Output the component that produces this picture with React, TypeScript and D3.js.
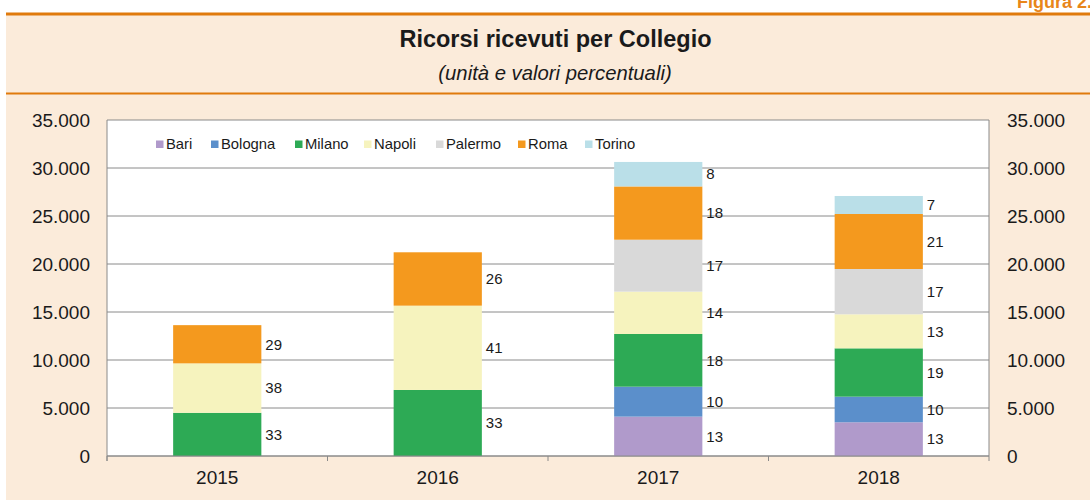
import React from "react";
import * as d3 from "d3";

const years = ["2015", "2016", "2017", "2018"];
const seriesNames = ["Bari", "Bologna", "Milano", "Napoli", "Palermo", "Roma", "Torino"];
const seriesColors = ["#B09ACB", "#5B8FCB", "#2DAA55", "#F6F3BE", "#D9D9D9", "#F4991E", "#BADFE8"];

const bari = [0, 0, 4100, 3510];
const bologna = [0, 0, 3120, 2670];
const milano = [4500, 6880, 5490, 5035];
const napoli = [5150, 8780, 4410, 3545];
const palermo = [0, 0, 5410, 4720];
const roma = [3980, 5560, 5550, 5730];
const torino = [0, 0, 2550, 1875];

const pctBari = [null, null, 13, 13];
const pctBologna = [null, null, 10, 10];
const pctMilano = [33, 33, 18, 19];
const pctNapoli = [38, 41, 14, 13];
const pctPalermo = [null, null, 17, 17];
const pctRoma = [29, 26, 18, 21];
const pctTorino = [null, null, 8, 7];

const yTicks = [0, 5000, 10000, 15000, 20000, 25000, 30000, 35000];

const seriesValues = [bari, bologna, milano, napoli, palermo, roma, torino];
const seriesPct = [pctBari, pctBologna, pctMilano, pctNapoli, pctPalermo, pctRoma, pctTorino];

const W = 1090;
const H = 500;
const plotL = 107;
const plotR = 989;
const plotT = 120;
const plotB = 456;
const FONT = "'Liberation Sans', Arial, sans-serif";

const fmt = (v: number) => d3.format(",")(v).replace(/,/g, ".");

export default function App() {
  const x = d3.scaleBand<string>().domain(years).range([plotL, plotR]).padding(0);
  const y = d3.scaleLinear().domain([0, 35000]).range([plotB, plotT]);
  const barW = x.bandwidth() * 0.4;

  const table = years.map((yr, i) => {
    const row: any = { year: yr };
    seriesNames.forEach((s, j) => (row[s] = seriesValues[j][i]));
    return row;
  });
  const stacked = d3.stack<any>().keys(seriesNames)(table);

  const legendX = [156, 211, 295, 364, 436, 518, 585];

  return (
    <svg width={W} height={H} style={{ display: "block", position: "absolute", left: 0, top: 0 }} fontFamily={FONT}>
      <rect x={0} y={0} width={W} height={H} fill="#ffffff" />
      <rect x={6} y={14} width={W - 6} height={H - 14} fill="#FBEBDA" />
      <line x1={6} x2={W} y1={14} y2={14} stroke="#E07A0C" strokeWidth={3} />
      <line x1={6} x2={W} y1={93.5} y2={93.5} stroke="#E07A0C" strokeWidth={2} />
      <text x={1092} y={8} textAnchor="end" fontSize={18} fontWeight="bold" fill="#E8861A">Figura 2.</text>
      <text x={555.5} y={47} textAnchor="middle" fontSize={23.5} fontWeight="bold" fill="#1a1a1a">Ricorsi ricevuti per Collegio</text>
      <text x={555} y={79.5} textAnchor="middle" fontSize={20.3} fontStyle="italic" fill="#1a1a1a">(unità e valori percentuali)</text>

      <rect x={plotL} y={plotT} width={plotR - plotL} height={plotB - plotT} fill="#ffffff" />
      {yTicks.map((t) => (
        <g key={t}>
          <line x1={plotL} x2={plotR} y1={y(t)} y2={y(t)} stroke="#8a8a8a" strokeWidth={1} />
          <text x={90} y={y(t)} dy="0.35em" textAnchor="end" fontSize={19} fill="#1a1a1a">{fmt(t)}</text>
          <text x={1007} y={y(t)} dy="0.35em" textAnchor="start" fontSize={19} fill="#1a1a1a">{fmt(t)}</text>
        </g>
      ))}
      <line x1={plotL} x2={plotL} y1={plotT} y2={plotB + 5} stroke="#8a8a8a" />
      <line x1={plotR} x2={plotR} y1={plotT} y2={plotB + 5} stroke="#8a8a8a" />
      {years.map((yr) => (
        <line key={yr} x1={x(yr)!} x2={x(yr)!} y1={plotB} y2={plotB + 5} stroke="#8a8a8a" />
      ))}

      {stacked.map((layer, j) => (
        <g key={seriesNames[j]}>
          {layer.map((d, i) => {
            const v = d[1] - d[0];
            if (!v) return null;
            const cx = x(years[i])! + x.bandwidth() / 2;
            return (
              <rect key={i} x={cx - barW / 2} y={y(d[1])} width={barW} height={y(d[0]) - y(d[1])} fill={seriesColors[j]} />
            );
          })}
        </g>
      ))}
      <line x1={plotL} x2={plotR} y1={plotB} y2={plotB} stroke="#8a8a8a" />

      {stacked.map((layer, j) => (
        <g key={"l" + seriesNames[j]}>
          {layer.map((d, i) => {
            const p = seriesPct[j][i];
            if (p == null) return null;
            const cx = x(years[i])! + x.bandwidth() / 2;
            return (
              <text key={i} x={cx + barW / 2 + 4} y={(y(d[0]) + y(d[1])) / 2} dy="0.35em" fontSize={15} fill="#1a1a1a">{p}</text>
            );
          })}
        </g>
      ))}

      {years.map((yr) => (
        <text key={yr} x={x(yr)! + x.bandwidth() / 2} y={484} textAnchor="middle" fontSize={19} fill="#1a1a1a">{yr}</text>
      ))}

      {seriesNames.map((s, j) => (
        <g key={"lg" + s}>
          <rect x={legendX[j]} y={140.5} width={7.5} height={7.5} fill={seriesColors[j]} />
          <text x={legendX[j] + 10} y={148.5} fontSize={14.8} fill="#1a1a1a">{s}</text>
        </g>
      ))}
    </svg>
  );
}
